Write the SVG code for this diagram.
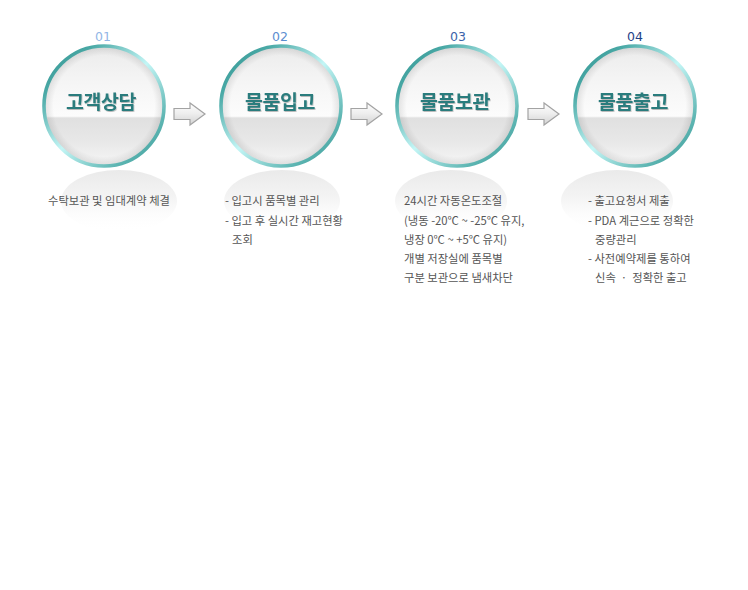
<svg xmlns="http://www.w3.org/2000/svg" width="748" height="590" viewBox="0 0 748 590">
<defs>
<linearGradient id="ring" x1="0" y1="0" x2="1" y2="1">
<stop offset="0" stop-color="#2f918e"/>
<stop offset="0.2" stop-color="#4aa9a6"/>
<stop offset="0.5" stop-color="#c4f6f6"/>
<stop offset="0.8" stop-color="#5db5b2"/>
<stop offset="1" stop-color="#3a9a97"/>
</linearGradient>
<linearGradient id="face" x1="0" y1="0" x2="0" y2="1">
<stop offset="0" stop-color="#ebebeb"/>
<stop offset="0.3" stop-color="#f5f5f5"/>
<stop offset="0.585" stop-color="#fcfcfc"/>
<stop offset="0.6" stop-color="#e0e0e0"/>
<stop offset="0.8" stop-color="#e8e8e8"/>
<stop offset="1" stop-color="#f7f7f7"/>
</linearGradient>
<radialGradient id="edge" cx="0.5" cy="0.5" r="0.5">
<stop offset="0.84" stop-color="#000" stop-opacity="0"/>
<stop offset="1" stop-color="#000" stop-opacity="0.11"/>
</radialGradient>
<linearGradient id="refl" x1="0" y1="0" x2="0" y2="1">
<stop offset="0" stop-color="#eaeaea"/>
<stop offset="0.45" stop-color="#f4f4f4"/>
<stop offset="1" stop-color="#ffffff" stop-opacity="0"/>
</linearGradient>
<linearGradient id="arr" x1="0" y1="0" x2="0" y2="1">
<stop offset="0" stop-color="#ffffff"/>
<stop offset="0.5" stop-color="#ededed"/>
<stop offset="1" stop-color="#d2d2d2"/>
</linearGradient>
<filter id="ts" x="-10%" y="-20%" width="120%" height="150%">
<feDropShadow dx="0.6" dy="1" stdDeviation="0.6" flood-color="#000" flood-opacity="0.25"/>
</filter>
<g id="bubble">
<circle r="60" fill="url(#face)"/>
<circle r="60" fill="url(#edge)"/>
<circle r="60" fill="none" stroke="url(#ring)" stroke-width="3.6"/>
</g>
</defs>
<style>
.num{font-family:"DejaVu Sans","Noto Sans",sans-serif;font-size:12.5px;text-anchor:middle}
.ttl{font-family:"Noto Sans CJK KR","Noto Sans",sans-serif;font-size:19.5px;font-weight:bold;fill:#2c7c7d;text-anchor:middle;letter-spacing:-0.5px}
.txt{font-family:"Noto Sans CJK KR","Noto Sans",sans-serif;font-size:11.3px;fill:#555555}
.ar{fill:url(#arr);stroke:#a3a3a3;stroke-width:1.2;stroke-linejoin:miter}
</style>
<rect width="748" height="590" fill="#ffffff"/>

<g id="reflections">
<ellipse cx="119" cy="201" rx="58" ry="31" fill="url(#refl)"/>
<ellipse cx="282" cy="201" rx="58" ry="31" fill="url(#refl)"/>
<ellipse cx="451" cy="201" rx="56" ry="31" fill="url(#refl)"/>
<ellipse cx="617" cy="201" rx="56" ry="31" fill="url(#refl)"/>
</g>

<g id="connectors">
<path class="ar" d="M174,108.5 H190 V103 L205,114 L190,125 V119.5 H174 Z"/>
<path class="ar" d="M351,108.5 H367 V103 L382,114 L367,125 V119.5 H351 Z"/>
<path class="ar" d="M528,108.5 H544 V103 L559,114 L544,125 V119.5 H528 Z"/>
</g>

<g id="step1">
<text class="num" x="103" y="40.5" fill="#92b6e6">01</text>
<use href="#bubble" x="104" y="106"/>
<text class="ttl" x="101" y="109" filter="url(#ts)">고객상담</text>
<text class="txt" x="48" y="205">수탁보관 및 임대계약 체결</text>
</g>

<g id="step2">
<text class="num" x="280" y="40.5" fill="#5b8dd0">02</text>
<use href="#bubble" x="281" y="106"/>
<text class="ttl" x="280" y="109" filter="url(#ts)">물품입고</text>
<text class="txt" x="225" y="205">- 입고시 품목별 관리</text>
<text class="txt" x="225" y="224.5">- 입고 후 실시간 재고현황</text>
<text class="txt" x="232" y="244">조회</text>
</g>

<g id="step3">
<text class="num" x="458" y="40.5" fill="#3a63a9">03</text>
<use href="#bubble" x="457" y="106"/>
<text class="ttl" x="455" y="109" filter="url(#ts)">물품보관</text>
<text class="txt" x="404" y="205">24시간 자동온도조절</text>
<text class="txt" x="404" y="224.5">(냉동 -20℃ ~ -25℃ 유지,</text>
<text class="txt" x="404" y="244">냉장 0℃ ~ +5℃ 유지)</text>
<text class="txt" x="404" y="263">개별 저장실에 품목별</text>
<text class="txt" x="404" y="282">구분 보관으로 냄새차단</text>
</g>

<g id="step4">
<text class="num" x="635" y="40.5" fill="#1f4287">04</text>
<use href="#bubble" x="635" y="106"/>
<text class="ttl" x="633" y="109" filter="url(#ts)">물품출고</text>
<text class="txt" x="588" y="205">- 출고요청서 제출</text>
<text class="txt" x="588" y="224.5">- PDA 계근으로 정확한</text>
<text class="txt" x="595" y="244">중량관리</text>
<text class="txt" x="588" y="263">- 사전예약제를 통하여</text>
<text class="txt" x="595" y="282" xml:space="preserve">신속  ·  정확한 출고</text>
</g>
</svg>
